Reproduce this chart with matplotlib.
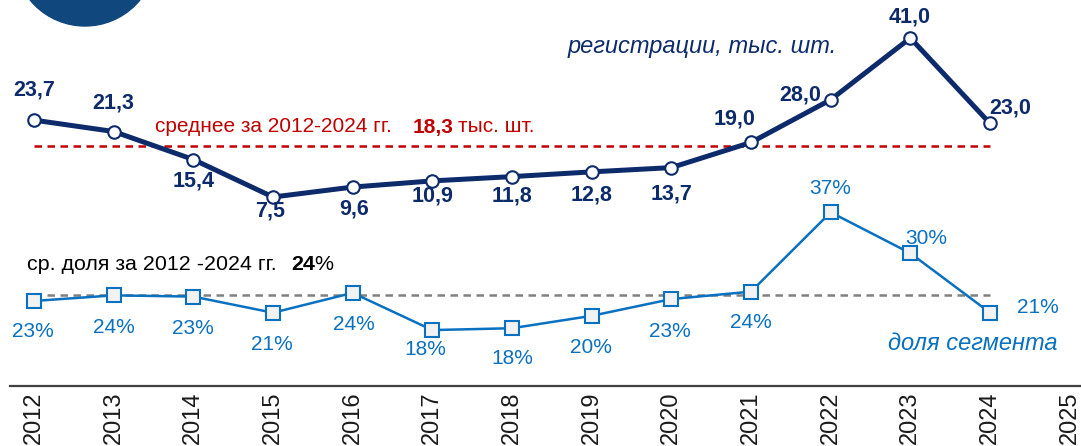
import matplotlib.pyplot as plt
from matplotlib.patches import Ellipse

plt.rcParams['font.family'] = ['Liberation Sans', 'DejaVu Sans']

# data
years = list(range(2012, 2025))
tick_years = list(range(2012, 2026))
registrations = [23.7, 21.3, 15.4, 7.5, 9.6, 10.9, 11.8, 12.8, 13.7, 19.0, 28.0, 41.0, 23.0]
reg_labels = ['23,7', '21,3', '15,4', '7,5', '9,6', '10,9', '11,8', '12,8', '13,7',
              '19,0', '28,0', '41,0', '23,0']
share = [22.7, 23.6, 23.4, 20.8, 24.0, 18.0, 18.3, 20.3, 23.0, 24.2, 37.0, 30.4, 20.8]
share_labels = ['23%', '24%', '23%', '21%', '24%', '18%', '18%', '20%', '23%',
                '24%', '37%', '30%', '21%']
avg_reg = 18.3
avg_share = 23.7

# label offsets in pixels (dx, dy)
reg_off = [(0, 30), (0, 29), (0, -21), (-3, -14), (1, -22), (0, -15), (0, -19),
           (0, -23), (0, -26), (-16, 23), (-30, 5), (-1, 21), (20, 15)]
share_off = [(-1, -31), (0, -32), (0, -32), (-1, -32), (1, -32), (-7, -19), (0, -30),
             (-1, -32), (-1, -32), (0, -31), (0, 24), (16, 15), (48, 5)]

navy = '#0d2b6b'
blue = '#0a70c0'
red = '#c00000'

fig = plt.figure(figsize=(10.81, 4.46), dpi=100)
ax = fig.add_axes([10 / 1081, 60 / 446, 1071 / 1081, 386 / 446])
ax2 = ax.twinx()

ax.set_xlim(2011.699, 2025.142)
ax.set_ylim(-32.3, 49.0)
ax2.set_ylim(8.98, 71.24)

for a in (ax, ax2):
    for s in ['top', 'right', 'left']:
        a.spines[s].set_visible(False)
    a.set_yticks([])
    a.patch.set_visible(False)
ax2.spines['bottom'].set_visible(False)
ax.spines['bottom'].set_color('#404040')
ax.spines['bottom'].set_linewidth(1.6)

ax.set_xticks(tick_years)
ax.set_xticklabels([str(y) for y in tick_years], rotation=90, fontsize=17, color='#1a1a1a')
ax.tick_params(axis='x', length=0, pad=4)

# registrations
ax.plot([years[0], years[-1]], [avg_reg, avg_reg], color=red, lw=1.8, ls=(0, (3, 2.2)), zorder=1)
ax.plot(years, registrations, color=navy, lw=3.6, marker='o', ms=9,
        mfc='white', mec=navy, mew=1.5, zorder=3)
for x, v, t, (dx, dy) in zip(years, registrations, reg_labels, reg_off):
    ax.annotate(t, (x, v), xytext=(dx, dy), textcoords='offset pixels',
                ha='center', va='center', fontsize=15.5, fontweight='bold', color=navy)

# share
ax2.plot([years[0], years[-1]], [avg_share, avg_share], color='#808080', lw=1.8,
         ls=(0, (3, 2.2)), zorder=1)
ax2.plot(years, share, color=blue, lw=1.8, marker='s', ms=10,
         mfc='#f2f2f2', mec=blue, mew=1.5, zorder=3)
for x, v, t, (dx, dy) in zip(years, share, share_labels, share_off):
    ax2.annotate(t, (x, v), xytext=(dx, dy), textcoords='offset pixels',
                 ha='center', va='center', fontsize=15, color=blue)

# annotations
fig.text(568 / 1081, 1 - 46 / 446, 'регистрации, тыс. шт.', fontsize=17, style='italic',
         color=navy, ha='left', va='center')
fig.text(888 / 1081, 1 - 343 / 446, 'доля сегмента', fontsize=17, style='italic',
         color=blue, ha='left', va='center')
fig.text(155 / 1081, 1 - 127 / 446, 'среднее за 2012-2024 гг.', fontsize=15,
         color=red, ha='left', va='center')
fig.text(413 / 1081, 1 - 127 / 446, '18,3', fontsize=15, fontweight='bold',
         color=red, ha='left', va='center')
fig.text(458 / 1081, 1 - 127 / 446, 'тыс. шт.', fontsize=15,
         color=red, ha='left', va='center')
fig.text(27 / 1081, 1 - 265 / 446, 'ср. доля за 2012 -2024 гг.', fontsize=15.4,
         color='black', ha='left', va='center')
fig.text(291 / 1081, 1 - 265 / 446, '24', fontsize=15.4, fontweight='bold',
         color='black', ha='left', va='center')
fig.text(314 / 1081, 1 - 265 / 446, '%', fontsize=15.4,
         color='black', ha='left', va='center')

# logo circle
fig.patches.append(Ellipse((85 / 1081, 1 + 45 / 446), 142 / 1081, 142 / 446,
                           transform=fig.transFigure, color='#10477c', zorder=5))

fig.savefig('out.png', dpi=100)
